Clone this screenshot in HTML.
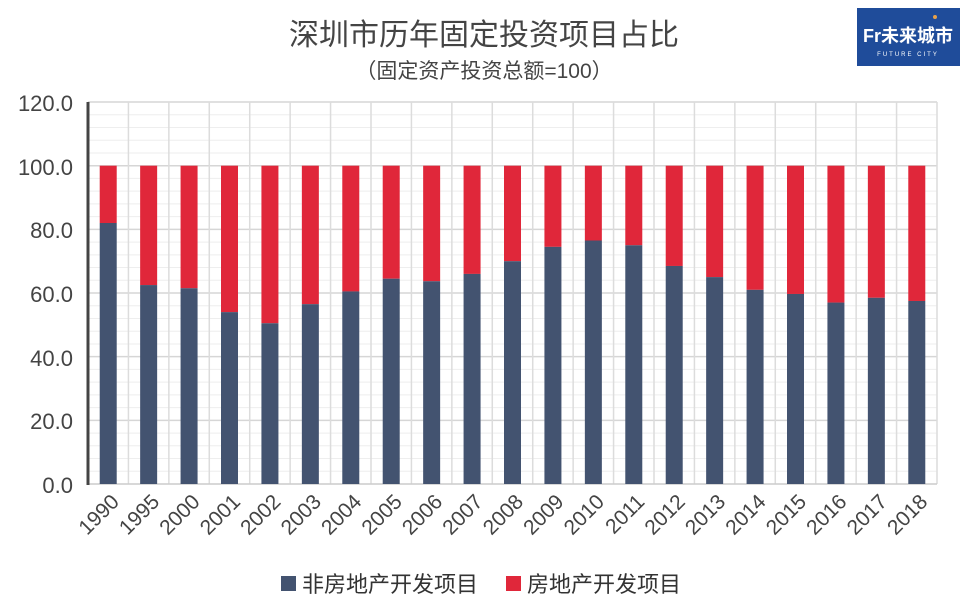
<!DOCTYPE html><html><head><meta charset="utf-8"><style>body{margin:0;background:#fff}svg{display:block}text{font-family:"Liberation Sans","Noto Sans CJK SC",sans-serif}</style></head><body>
<svg width="968" height="608" xmlns="http://www.w3.org/2000/svg">
<text x="484" y="45" text-anchor="middle" font-size="30" fill="#444">深圳市历年固定投资项目占比</text>
<text x="484" y="78" text-anchor="middle" font-size="21" fill="#444">（固定资产投资总额=100）</text>
<rect x="857" y="8" width="103" height="58" fill="#1f4c9a"/>
<text x="908" y="42" text-anchor="middle" font-size="18" fill="#fff" font-weight="bold">Fr未来城市</text>
<text x="908" y="56" text-anchor="middle" font-size="6" fill="#fff" letter-spacing="2">FUTURE CITY</text>
<circle cx="935" cy="17" r="2" fill="#e8a24a"/>
<g id="g"></g>
<line x1="88" y1="102" x2="88" y2="485" stroke="#444" stroke-width="3"/>
<g font-size="22" fill="#444" text-anchor="end">
<text x="73" y="111">120.0</text><text x="73" y="175">100.0</text><text x="73" y="238">80.0</text><text x="73" y="302">60.0</text><text x="73" y="366">40.0</text><text x="73" y="429">20.0</text><text x="73" y="493">0.0</text></g>
<rect x="281" y="576" width="15" height="15" fill="#435370"/>
<text x="302" y="592" font-size="22" fill="#333">非房地产开发项目</text>
<rect x="506" y="576" width="15" height="15" fill="#e0273a"/>
<text x="527" y="592" font-size="22" fill="#333">房地产开发项目</text>
</svg>
<script>
var v=[82,62.5,61.5,54,50.5,56.5,60.5,64.5,63.7,66,70,74.5,76.5,75,68.5,65,61,59.7,57,58.5,57.5];
var yr=["1990","1995","2000","2001","2002","2003","2004","2005","2006","2007","2008","2009","2010","2011","2012","2013","2014","2015","2016","2017","2018"];
var s="",w=849/21,Y=u=>484-u*3.183;
for(var i=1;i<=30;i++){var y=Y(i*4);s+='<line x1="88" x2="937" y1="'+y+'" y2="'+y+'" stroke="'+(i%5==0?'#d6d6d6':'#eeeeee')+'" stroke-width="'+(i%5==0?1.5:1)+'"/>';}
for(var k=1;k<=21;k++){var x=88+k*w;s+='<line x1="'+x+'" x2="'+x+'" y1="102" y2="484" stroke="#dcdcdc" stroke-width="1.5"/>';}
s+='<line x1="88" x2="937" y1="484" y2="484" stroke="#ccc" stroke-width="1.5"/>';
for(var i=0;i<21;i++){var c=88+w*(i+.5);s+='<rect x="'+(c-8.5)+'" y="'+Y(100)+'" width="17" height="'+(Y(v[i])-Y(100))+'" fill="#e0273a"/><rect x="'+(c-8.5)+'" y="'+Y(v[i])+'" width="17" height="'+(484-Y(v[i]))+'" fill="#435370"/>';
s+='<text x="'+(c+12)+'" y="503" font-size="21" fill="#444" text-anchor="end" transform="rotate(-45 '+(c+12)+' 503)">'+yr[i]+'</text>';}
document.getElementById("g").innerHTML=s;
</script>
</body></html>
